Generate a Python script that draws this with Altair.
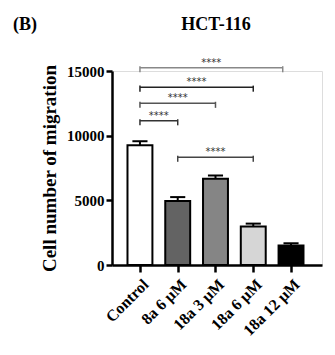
import altair as alt
import pandas as pd

groups = ["Control", "8a 6 μM", "18a 3 μM", "18a 6 μM", "18a 12 μM"]
group_idx = [0, 1, 2, 3, 4]
means = [9250, 4940, 6670, 2970, 1500]
err_top = [9570, 5250, 6920, 3200, 1680]
fills = ["#ffffff", "#636363", "#858585", "#d6d6d6", "#000000"]

br_x1 = [0, 0, 0, 0, 1]
br_x2 = [1, 2, 3, 3.78, 3]
br_y = [11150, 12500, 13750, 15250, 8330]
br_color = ["#333333", "#555555", "#222222", "#888888", "#444444"]
br_label = ["****", "****", "****", "****", "****"]

FONT = "Liberation Serif"

bars_df = pd.DataFrame({"group": groups, "idx": group_idx, "mean": means,
                        "err": err_top, "fill": fills})
br_df = pd.DataFrame({"x1": br_x1, "x2": br_x2, "y": br_y,
                      "c": br_color, "lab": br_label})

xscale = alt.Scale(domain=[-0.74, 4.82], nice=False, zero=False)
yscale = alt.Scale(domain=[0, 15000], nice=False)

label_js = "[" + ",".join("'" + g + "'" for g in groups) + "]"

xaxis = alt.Axis(values=group_idx, labelExpr=label_js + "[datum.value]",
                 labelAngle=-45, title=None, grid=False, labelOverlap=False,
                 labelFont=FONT, labelFontWeight="bold", labelFontSize=16,
                 labelColor="black", tickColor="black", tickSize=7, tickWidth=2.5,
                 domainColor="black", domainWidth=2.5, labelPadding=4)
yaxis = alt.Axis(values=[0, 5000, 10000, 15000], format="d", title="Cell number of migration",
                 grid=False, labelFont=FONT, labelFontWeight="bold", labelFontSize=15,
                 labelColor="black", tickColor="black", tickSize=6, tickWidth=2.5,
                 domainColor="black", domainWidth=2.5, labelPadding=2,
                 titleFont=FONT, titleFontWeight="bold", titleFontSize=19,
                 titleColor="black", titlePadding=7)

base = alt.Chart(bars_df)

bars = base.transform_calculate(
    lo="datum.idx - 0.33", hi="datum.idx + 0.33"
).mark_bar(stroke="black", strokeWidth=2).encode(
    x=alt.X("lo:Q", scale=xscale, axis=xaxis),
    x2="hi:Q",
    y=alt.Y("mean:Q", scale=yscale, axis=yaxis),
    y2=alt.datum(0),
    fill=alt.Fill("fill:N", scale=None),
)

err_line = base.mark_rule(color="black", strokeWidth=2).encode(
    x="idx:Q", y="mean:Q", y2="err:Q")
err_cap = base.transform_calculate(
    lo="datum.idx - 0.2", hi="datum.idx + 0.2"
).mark_rule(color="black", strokeWidth=2).encode(
    x="lo:Q", x2="hi:Q", y="err:Q")

bb = alt.Chart(br_df)
br_line = bb.mark_rule(strokeWidth=1.5).encode(
    x="x1:Q", x2="x2:Q", y="y:Q", color=alt.Color("c:N", scale=None))
br_ends = bb.transform_fold(["x1", "x2"], as_=["end", "xe"]).transform_calculate(
    ylo="datum.y - 350", yhi="datum.y + 120"
).mark_rule(strokeWidth=1.5).encode(
    x="xe:Q", y="ylo:Q", y2="yhi:Q", color=alt.Color("c:N", scale=None))
br_text = bb.transform_calculate(
    xm="(datum.x1 + datum.x2) / 2"
).mark_text(font="DejaVu Sans", fontSize=10, baseline="bottom", dy=0,
            color="#333333").encode(x="xm:Q", y="y:Q", text="lab:N")

heads = alt.Chart(pd.DataFrame({"t": ["(B)", "HCT-116"]}))
panel = heads.transform_filter("datum.t == '(B)'").mark_text(
    font=FONT, fontWeight="bold", fontSize=18, align="left", baseline="middle",
    color="black").encode(x=alt.value(-99), y=alt.value(-46), text="t:N")
title = heads.transform_filter("datum.t == 'HCT-116'").mark_text(
    font=FONT, fontWeight="bold", fontSize=18, align="center", baseline="middle",
    color="black").encode(x=alt.value(104), y=alt.value(-46), text="t:N")

chart = alt.layer(bars, err_line, err_cap, br_line, br_ends, br_text, panel, title).properties(
    width=210, height=194,
    autosize=alt.AutoSizeParams(type="none"),
    padding={"left": 112, "top": 71, "right": 13, "bottom": 90},
).configure_view(stroke=None).configure(background="white")

chart.save("out.html", embed_options={"renderer": "svg", "actions": False})
